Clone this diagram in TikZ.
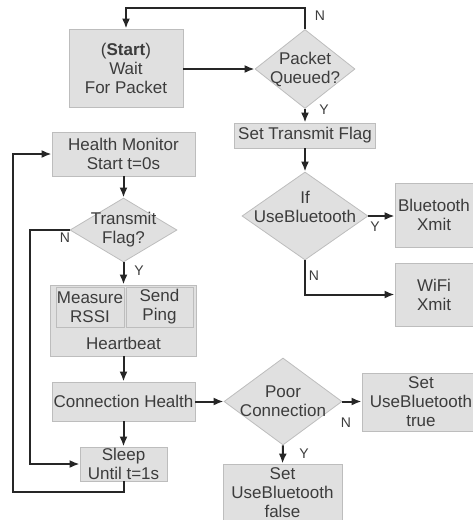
\documentclass[tikz,border=0pt]{standalone}
\usepackage{fontspec}
\setmainfont{Liberation Sans}
\usetikzlibrary{shapes.geometric,arrows.meta,calc}
\definecolor{boxfill}{HTML}{E0E0E0}
\definecolor{boxline}{HTML}{BDBDBD}
\definecolor{txtc}{HTML}{3C3C3C}
\begin{document}
\begin{tikzpicture}[x=1pt,y=-1pt,
  box/.style={draw=boxline,fill=boxfill,line width=0.8pt,inner sep=0pt,text=txtc,align=center,font=\fontsize{17}{19}\selectfont},
  dia/.style={shape=diamond,draw=boxline,fill=boxfill,line width=0.8pt,inner sep=0pt},
  txt/.style={text=txtc,align=center,inner sep=0pt,font=\fontsize{17}{19}\selectfont},
  lab/.style={text=txtc,inner sep=0pt,font=\fontsize{14}{16}\selectfont},
  conn/.style={draw=black!85,line width=2pt,-{Latex[length=10pt,width=8pt]}}]
\useasboundingbox (0,0) rectangle (472,520);
% nodes
\node[box,minimum width=114pt,minimum height=78pt] (start) at (126,68) {(\textbf{Start})\\Wait\\For Packet};
\node[dia,minimum width=100pt,minimum height=79pt] (pq) at (305,69) {};
\node[txt] (pqt) at (pq) {Packet\\Queued?};
\node[box,minimum width=141pt,minimum height=25pt] (stf) at (305,135.5) {Set Transmit Flag};
\node[dia,minimum width=126pt,minimum height=88pt] (ifb) at (305,216) {};
\node[txt] (ifbt) at (305,207) {If\\UseBluetooth};
\node[box,minimum width=78pt,minimum height=64pt] (bt) at (434,215) {Bluetooth\\Xmit};
\node[box,minimum width=78pt,minimum height=63pt] (wifi) at (434,294.5) {WiFi\\Xmit};
\node[box,minimum width=143pt,minimum height=44pt] (hm) at (123.5,154) {Health Monitor\\Start t=0s};
\node[dia,minimum width=107pt,minimum height=64pt] (tf) at (123.5,230) {};
\node[txt] (tft) at (tf) {Transmit\\Flag?};
\node[box,minimum width=146pt,minimum height=71pt] (hb) at (123.5,320.5) {};
\node[box,minimum width=68pt,minimum height=40pt] (mr) at (90,307) {Measure\\RSSI};
\node[box,minimum width=67pt,minimum height=40pt] (sp) at (159.5,307) {Send\\Ping};
\node[txt] (hbt) at (123.5,343) {Heartbeat};
\node[box,minimum width=143pt,minimum height=39pt] (ch) at (123.5,401.5) {Connection Health};
\node[dia,minimum width=118pt,minimum height=87pt] (pc) at (283,401.5) {};
\node[txt] (pct) at (pc) {Poor\\Connection};
\node[box,minimum width=118pt,minimum height=58pt] (sut) at (421,402) {Set\\UseBluetooth\\true};
\node[box,minimum width=119pt,minimum height=58pt] (suf) at (282.5,493) {Set\\UseBluetooth\\false};
\node[box,minimum width=87pt,minimum height=34pt] (sl) at (123.5,464) {Sleep\\Until t=1s};
% helper coordinates
\coordinate (top) at (0,8);
\coordinate (nl) at (30,0);
\coordinate (ol) at (13,492);
% connectors
\draw[conn] (pq.north) |- (top -| start.north) -- (start.north);
\draw[conn] (start.east |- pq.west) -- (pq.west);
\draw[conn] (pq.south) -- (stf.north);
\draw[conn] (stf.south) -- (ifb.north);
\draw[conn] (ifb.east) -- (bt.west |- ifb.east);
\draw[conn] (ifb.south) |- (wifi.west);
\draw[conn] (hm.south) -- (tf.north);
\draw[conn] (tf.south) -- (hb.north);
\draw[conn] (hb.south) -- (ch.north);
\draw[conn] (ch.east) -- (pc.west);
\draw[conn] (pc.east) -- (sut.west |- pc.east);
\draw[conn] (pc.south) -- (suf.north);
\draw[conn] (ch.south) -- (sl.north);
\draw[conn] (tf.west) -| (nl |- sl.west) -- (sl.west);
\draw[conn] (sl.south) |- (ol) |- (hm.west);
% labels
\node[lab] (lpn) at (320,16) {N};
\node[lab] (lpy) at (324,110) {Y};
\node[lab] (lby) at (375,227) {Y};
\node[lab] (lbn) at (314,276) {N};
\node[lab] (ltn) at (65,238) {N};
\node[lab] (lty) at (139,271) {Y};
\node[lab] (lcn) at (346,423) {N};
\node[lab] (lcy) at (304,454) {Y};
\end{tikzpicture}
\end{document}
